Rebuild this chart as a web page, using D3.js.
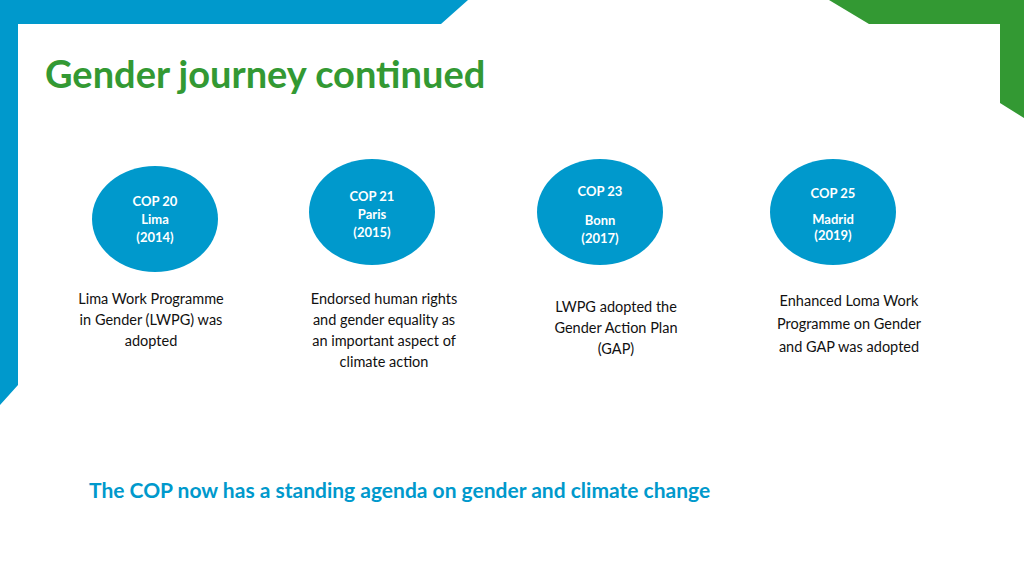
<!DOCTYPE html><html><head><meta charset="utf-8"><script src="https://cdn.jsdelivr.net/npm/d3@7"></script>
<style>body{margin:0;background:#fff}svg{display:block;font-family:Lato,"Open Sans",sans-serif}</style></head><body><svg id="s" width="1024" height="576"></svg>
<script>
const events=["COP 20","COP 21","COP 23","COP 25"];
const places=["Lima","Paris","Bonn","Madrid"];
const years=["(2014)","(2015)","(2017)","(2019)"];
const descriptions=[["Lima Work Programme","in Gender (LWPG) was","adopted"],["Endorsed human rights","and gender equality as","an important aspect of","climate action"],["LWPG adopted the","Gender Action Plan","(GAP)"],["Enhanced Loma Work","Programme on Gender","and GAP was adopted"]];
const cx=[155,372,600,833], cy=[219,212,212,212], descY=[299,299,307,301], lineH=[21,21,21,23];
const labelY=[[202,220,238],[197,215,233],[192,221,239],[194,220,236]];
const svg=d3.select("#s");
const blue="#0099cc", green="#339933";
svg.append("path").attr("d","M0,0H468L441,24H18V385L0,405Z").attr("fill",blue);
svg.append("path").attr("d","M829,0H1024V118L1000,103V24H869Z").attr("fill",green);
svg.append("text").attr("x",45).attr("y",88).attr("fill",green).attr("font-size",38).attr("font-weight",700).text("Gender journey continued");
events.forEach((e,i)=>{
  const g=svg.append("g");
  g.append("ellipse").attr("cx",cx[i]).attr("cy",cy[i]).attr("rx",63).attr("ry",53).attr("fill",blue);
  [e,places[i],years[i]].forEach((t,j)=>g.append("text").attr("x",cx[i]).attr("y",labelY[i][j]+4).attr("text-anchor","middle").attr("fill","#fff").attr("font-size",13).attr("font-weight",700).text(t));
  descriptions[i].forEach((t,j)=>svg.append("text").attr("x",[151,384,616,849][i]).attr("y",descY[i]+5+j*lineH[i]).attr("text-anchor","middle").attr("fill","#111").attr("font-size",14.5).text(t));
});
svg.append("text").attr("x",89).attr("y",498).attr("fill",blue).attr("font-size",21).attr("font-weight",700).text("The COP now has a standing agenda on gender and climate change");
</script></body></html>
